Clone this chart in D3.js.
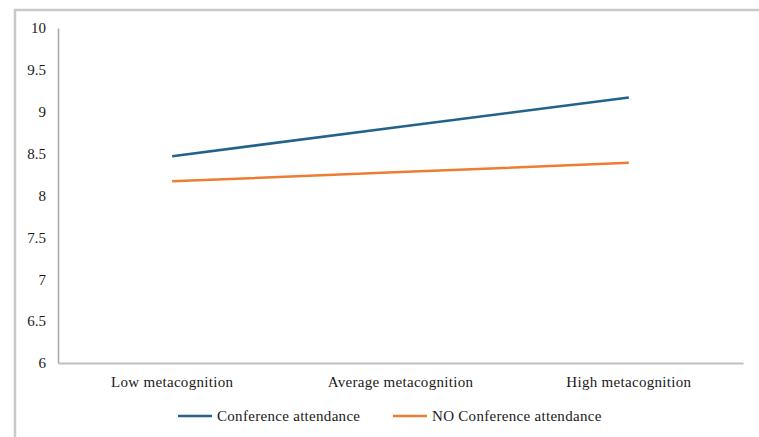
<!DOCTYPE html>
<html><head><meta charset="utf-8">
<script src="https://cdn.jsdelivr.net/npm/d3@7"></script>
<style>body{margin:0;background:#fff}svg{display:block}</style>
</head><body>
<svg id="c" width="759" height="437"></svg>
<script>
const categories = ["Low metacognition", "Average metacognition", "High metacognition"];
const conference = [8.47, 8.82, 9.17];
const noConference = [8.17, 8.28, 8.39];
const yTicks = [6, 6.5, 7, 7.5, 8, 8.5, 9, 9.5, 10];
const seriesNames = ["Conference attendance", "NO Conference attendance"];
const colors = ["#22628c", "#ed7d31"];

(function(){
const FONT = "'Liberation Serif', 'Times New Roman', 'DejaVu Serif', serif";
const svg = d3.select("#c");
svg.append("path").attr("d","M15,437 V10 H759").attr("fill","none").attr("stroke","#c9c9c9").attr("stroke-width",2.5);

const mLeft = 58, mRight = 743, mTop = 28, mBottom = 363;
const x = d3.scaleBand().domain(categories).range([mLeft, mRight]);
const y = d3.scaleLinear().domain([6, 10]).range([mBottom, mTop]);

const ya = svg.append("g").attr("transform",`translate(${mLeft},0)`)
  .call(d3.axisLeft(y).tickValues(yTicks).tickSize(0).tickPadding(12).tickFormat(d => String(d)));
ya.attr("font-family", FONT).attr("font-size", 15);
ya.select(".domain").attr("stroke","#a6a6a6").attr("stroke-width",1.5);
ya.selectAll("text").attr("fill","#1a1a1a");

const xa = svg.append("g").attr("transform",`translate(0,${mBottom})`)
  .call(d3.axisBottom(x).tickSize(0).tickPadding(13));
xa.attr("font-family", FONT).attr("font-size", 15);
xa.select(".domain").attr("stroke","#c0c0c0").attr("stroke-width",2);
xa.selectAll("text").attr("fill","#1a1a1a").attr("letter-spacing","0.3px");

const line = d3.line().x((d,i) => x(categories[i]) + x.bandwidth()/2).y(d => y(d));
[conference, noConference].forEach((s, k) => {
  svg.append("path").datum(s).attr("d", line).attr("fill","none")
    .attr("stroke", colors[k]).attr("stroke-width", 2.5);
});

const legX = [178, 393];
seriesNames.forEach((n, k) => {
  const g = svg.append("g").attr("transform",`translate(${legX[k]},416)`);
  g.append("line").attr("x1",0).attr("x2",34).attr("y1",0).attr("y2",0).attr("stroke",colors[k]).attr("stroke-width",2.5);
  g.append("text").attr("x",39).attr("y",5).attr("font-family", FONT).attr("font-size",15)
    .attr("fill","#1a1a1a").attr("letter-spacing","0.3px").text(n);
});
})();
</script>
</body></html>
